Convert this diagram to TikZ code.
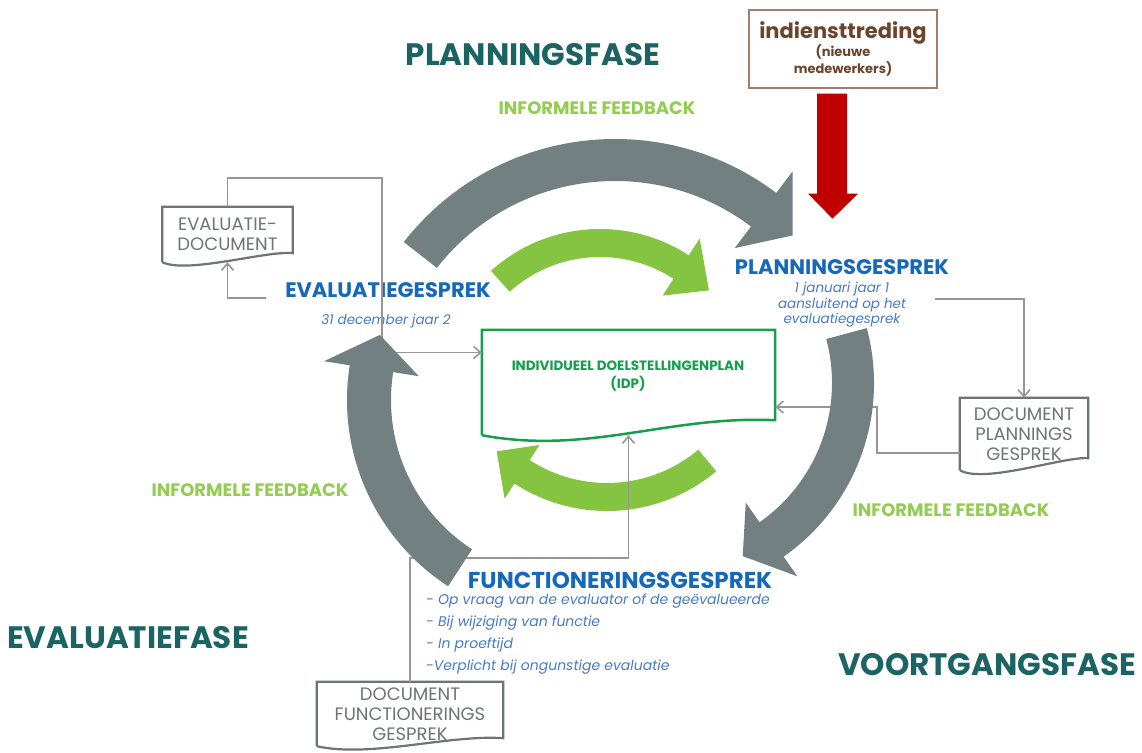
\documentclass[tikz,border=0pt]{standalone}
\usepackage{fontspec}
\setmainfont{Poppins}
\usetikzlibrary{calc,arrows.meta}

\definecolor{phaseteal}{RGB}{28,100,100}
\definecolor{fbgreen}{RGB}{146,205,80}
\definecolor{arrowgreen}{RGB}{132,196,64}
\definecolor{idpgreen}{RGB}{20,160,75}
\definecolor{talkblue}{RGB}{22,104,186}
\definecolor{noteblue}{RGB}{70,122,200}
\definecolor{arrowgray}{RGB}{114,128,130}
\definecolor{docgray}{RGB}{108,116,116}
\definecolor{linkgray}{RGB}{150,150,150}
\definecolor{startbrown}{RGB}{108,68,44}
\definecolor{startline}{RGB}{165,125,105}
\definecolor{startred}{RGB}{192,0,0}

\tikzset{
  phase/.style={font=\bfseries\fontsize{31}{36}\selectfont, text=phaseteal, inner sep=0pt},
  feedback/.style={font=\bfseries\fontsize{18}{22}\selectfont, text=fbgreen, inner sep=0pt},
  talk/.style={font=\bfseries\fontsize{21}{25}\selectfont, text=talkblue, inner sep=0pt},
  note/.style={font=\itshape\fontsize{13.5}{15.5}\selectfont, text=noteblue, inner sep=0pt, align=center},
  doc/.style={font=\fontsize{18}{20}\selectfont, text=docgray, inner sep=0pt, align=center},
  docline/.style={draw=docgray, line width=2.2},
  idpline/.style={draw=idpgreen, line width=2.5},
  idptext/.style={font=\bfseries\fontsize{13.5}{18}\selectfont, text=idpgreen, inner sep=0pt, align=center},
  startbox/.style={draw=startline, line width=1.3, minimum width=188, minimum height=78,
    font=\bfseries\fontsize{13}{17}\selectfont, text=startbrown, align=center, inner sep=0pt},
  link/.style={draw=linkgray, line width=1.6, -{Straight Barb[length=7pt,width=12pt]}},
  cycgray/.style={fill=arrowgray},
  cycgreen/.style={fill=arrowgreen},
  redarrow/.style={fill=startred}
}

% outline with wavy bottom round a node
\newcommand{\docwave}[4]{%
  \draw[#1] (#2.south west) -- (#2.north west) -- (#2.north east) -- ([yshift=#3]#2.south east)
    .. controls ([shift={(40,#4)}]#2.south) and ([shift={(-40,-#4)}]#2.south) .. (#2.south west);}

\begin{document}
\begin{tikzpicture}[x=1pt, y=1pt]
\useasboundingbox (0,0) rectangle (1142,-752);

% phases
\node[phase] (planfase) at (533,-55) {PLANNINGSFASE};
\node[phase] (evalfase) at (128,-638) {EVALUATIEFASE};
\node[phase] (voortfase) at (987,-665) {VOORTGANGSFASE};

% informal feedback
\node[feedback] (fbtop) at (597,-108) {INFORMELE FEEDBACK};
\node[feedback] (fbleft) at (250,-490) {INFORMELE FEEDBACK};
\node[feedback] (fbright) at (951,-510) {INFORMELE FEEDBACK};

% talks
\node[talk] (evaltalk) at (388,-290) {EVALUATIEGESPREK};
\node[note] (evalnote) at (386,-321) {31 december jaar 2};
\node[talk] (plantalk) at (842,-267) {PLANNINGSGESPREK};
\node[note] (plannote) at (842,-305) {1 januari jaar 1\\aansluitend op het\\evaluatiegesprek};
\node[talk, font=\bfseries\fontsize{23}{27}\selectfont] (functalk) at (620,-580) {FUNCTIONERINGSGESPREK};
\node[note, align=left, anchor=north west, font=\itshape\fontsize{14}{21.8}\selectfont] (funcnote) at (426,-594)
  {- Op vraag van de evaluator of de geëvalueerde\\- Bij wijziging van functie\\- In proeftijd\\-Verplicht bij ongunstige evaluatie};

% plan and documents
\node[minimum width=293, minimum height=105, inner sep=0pt] (idp) at (628.5,-382.5) {};
\node[idptext] (idplabel) at (628,-376) {INDIVIDUEEL DOELSTELLINGENPLAN\\(IDP)};
\docwave{idpline}{idp}{15}{20}

\node[doc, minimum width=130, minimum height=55] (evaldoc) at (227.5,-234.5) {EVALUATIE-\\DOCUMENT};
\node[doc, minimum width=128, minimum height=72] (plandoc) at (1024,-434) {DOCUMENT\\PLANNINGS\\GESPREK};
\node[doc, minimum width=186, minimum height=64] (funcdoc) at (410,-714) {DOCUMENT\\FUNCTIONERINGS\\GESPREK};
\docwave{docline}{evaldoc}{9}{12}
\docwave{docline}{plandoc}{12}{14}
\docwave{docline}{funcdoc}{8}{12}

% new staff
\node[startbox] (indienst) at (843,-49) {{\fontsize{21}{24}\selectfont indiensttreding}\\(nieuwe\\medewerkers)};
\fill[redarrow] ([xshift=-26,yshift=-5]indienst.south) -- ++(30,0) -- ++(0,-100) -- ++(11,0)
  -- ++(-25.5,-25) -- ++(-24.5,25) -- ++(9,0) -- cycle;

% green inner arrows
\foreach \cx/\cy/\r/\ta/\tb/\tc/\w/\b/\s in {600/-392/149/132/57/43/14/34/cycgreen,
    607/-341/156/-50/-123/-135/14/32/cycgreen}
  \fill[\s] ($(\cx,\cy)+({\ta}:{\r+\w})$) arc[start angle=\ta, end angle=\tb, radius=\r+\w]
    -- ($(\cx,\cy)+({\tb}:{\r+\b})$) -- ($(\cx,\cy)+({\tc}:{\r})$) -- ($(\cx,\cy)+({\tb}:{\r-\b})$)
    -- ($(\cx,\cy)+({\tb}:{\r-\w})$) arc[start angle=\tb, end angle=\ta, radius=\r-\w] -- cycle;

% links
\coordinate (evalout) at (266,-298);
\coordinate (evalbend) at (382,-178);
\coordinate (planout) at (935,-299);
\coordinate (planbend) at (877,-407);
\coordinate (funcbend) at (628.5,-558);
\draw[link] (evalout) -| (evaldoc.south);
\draw[link] (evaldoc.north) |- (evalbend) |- ([yshift=30]idp.west);
\draw[link] (planout) -| (plandoc.north);
\draw[link] ([yshift=-19]plandoc.west) -| (planbend) -- (idp.east |- planbend);
\draw[link] (funcdoc.north) |- (funcbend) -- (idp.south);

% gray cycle arrows
\foreach \cx/\cy/\r/\ta/\tb/\tc/\w/\b/\s in {615/-407/247/142/53/44/21/48/cycgray,
    662/-383/191/15/-55/-65/21/45/cycgray, 569/-400/200/237/171/161/22/48/cycgray}
  \fill[\s] ($(\cx,\cy)+({\ta}:{\r+\w})$) arc[start angle=\ta, end angle=\tb, radius=\r+\w]
    -- ($(\cx,\cy)+({\tb}:{\r+\b})$) -- ($(\cx,\cy)+({\tc}:{\r})$) -- ($(\cx,\cy)+({\tb}:{\r-\b})$)
    -- ($(\cx,\cy)+({\tb}:{\r-\w})$) arc[start angle=\tb, end angle=\ta, radius=\r-\w] -- cycle;
\end{tikzpicture}
\end{document}
